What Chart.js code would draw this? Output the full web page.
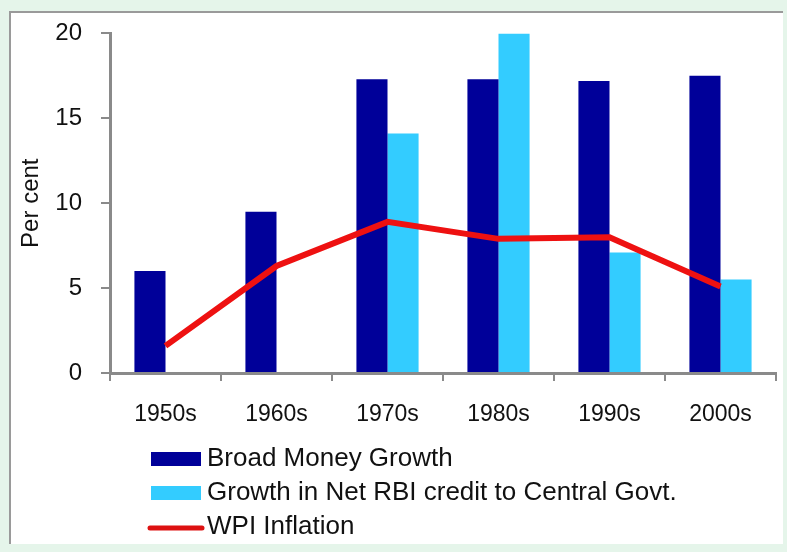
<!DOCTYPE html>
<html>
<head>
<meta charset="utf-8">
<script src="https://cdn.jsdelivr.net/npm/chart.js@4"></script>
<style>
  body { margin: 0; background: #e5f5ea; width: 787px; height: 552px; overflow: hidden; }
  .box { position: absolute; left: 9px; top: 11px; width: 772px; height: 531px; background: #fff;
         border-top: 2px solid #9a9a9a; border-left: 2px solid #9a9a9a; }
  canvas { position: absolute; left: 0; top: 0; }
</style>
</head>
<body>
<div class="box"></div>
<canvas id="chart" width="787" height="552"></canvas>
<script>
// data
var decades = ["1950s", "1960s", "1970s", "1980s", "1990s", "2000s"];
var broadMoney = [6.0, 9.5, 17.3, 17.3, 17.2, 17.5];
var rbiCredit = [null, null, 14.1, 20.0, 7.1, 5.5];
var wpiInflation = [1.6, 6.3, 8.9, 7.9, 8.0, 5.1];
var yTicks = [0, 5, 10, 15, 20];

const axisGrey = "#8a8a8a";
const fontName = "'Liberation Sans', Arial, sans-serif";

// legend drawn as a vertical list below the axis
const listLegend = {
  id: "listLegend",
  afterDraw(chart) {
    let ctx = chart.ctx;
    let top = chart.chartArea.bottom + 86;
    ctx.save();
    ctx.font = "26px " + fontName;
    ctx.textBaseline = "middle";
    chart.data.datasets.forEach((ds, i) => {
      let y = top + i * 34;
      if (ds.type == "line") {
        ctx.strokeStyle = "#dd1111";
        ctx.lineWidth = 5;
        ctx.lineCap = "round";
        ctx.beginPath();
        ctx.moveTo(150, y + 1);
        ctx.lineTo(202, y + 1);
        ctx.stroke();
      } else {
        ctx.fillStyle = ds.backgroundColor;
        ctx.fillRect(151, y - 7, 50, 14);
      }
      ctx.fillStyle = "#111";
      ctx.fillText(ds.label, 207, y);
    });
    ctx.restore();
  }
};

var ctx = document.getElementById("chart");
var chart = new Chart(ctx, {
  type: "bar",
  data: {
    labels: decades,
    datasets: [
      {
        label: "Broad Money Growth",
        data: broadMoney,
        backgroundColor: "#000099",
        order: 1,
      },
      {
        label: "Growth in Net RBI credit to Central Govt.",
        data: rbiCredit,
        backgroundColor: "#33ccff",
        order: 1,
      },
      {
        type: "line",
        label: "WPI Inflation",
        data: wpiInflation,
        borderColor: "#ee1111",
        borderWidth: 6,
        pointRadius: 0,
        tension: 0,
        order: 0,
      },
    ],
  },
  options: {
    responsive: false,
    animation: false,
    events: [],
    datasets: {
      bar: { categoryPercentage: 0.56, barPercentage: 1.0 },
    },
    layout: { padding: { left: 10, top: 31, right: 11, bottom: 119 } },
    plugins: {
      legend: { display: false },
      tooltip: { enabled: false },
    },
    scales: {
      x: {
        afterFit: (scale) => { scale.height = 60; },
        grid: {
          offset: true,
          drawOnChartArea: false,
          drawTicks: true,
          tickLength: 8,
          tickColor: axisGrey,
          lineWidth: 2,
        },
        border: { color: axisGrey, width: 3 },
        ticks: {
          color: "#111",
          font: { family: fontName, size: 23 },
          padding: 20,
        },
      },
      y: {
        min: 0,
        max: 20,
        afterFit: (scale) => { scale.width = 100; },
        afterBuildTicks: (scale) => {
          scale.ticks = yTicks.map((v) => ({ value: v }));
        },
        grid: {
          drawOnChartArea: false,
          drawTicks: true,
          tickLength: 9,
          tickColor: axisGrey,
          lineWidth: 2,
        },
        border: { color: axisGrey, width: 3 },
        ticks: {
          color: "#111",
          font: { family: fontName, size: 24 },
          padding: 19,
        },
        title: {
          display: true,
          text: "Per cent",
          color: "#111",
          font: { family: fontName, size: 24 },
          padding: { top: 7, bottom: 0 },
        },
      },
    },
  },
  plugins: [listLegend],
});
</script>
</body>
</html>
